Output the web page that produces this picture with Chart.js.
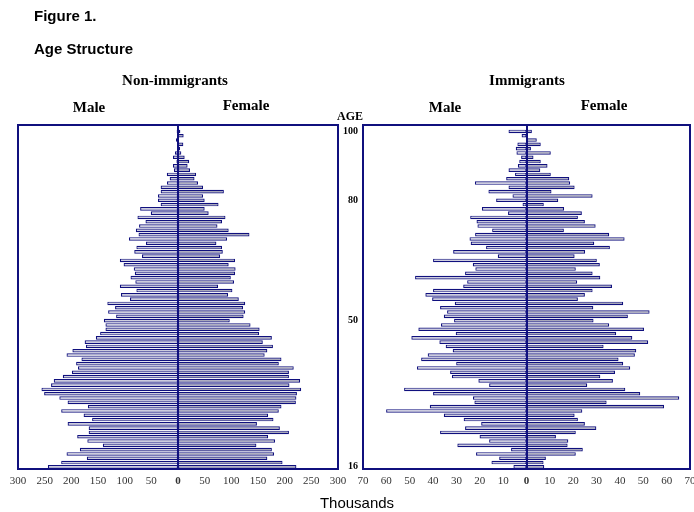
<!DOCTYPE html>
<html>
<head>
<meta charset="utf-8">
<script src="https://cdn.jsdelivr.net/npm/chart.js@4.4.0/dist/chart.umd.min.js"></script>
<style>
  body { margin: 0; background: #fff; }
  #wrap { position: relative; width: 694px; height: 512px; overflow: hidden; }
  canvas { position: absolute; top: 0; }
  .t { position: absolute; white-space: nowrap; transform: translate(-50%, -50%); color: #000; }
  .sans { font-family: "Liberation Sans", Arial, sans-serif; }
  .serif { font-family: "Liberation Serif", "Times New Roman", serif; font-weight: bold; }
</style>
</head>
<body>
<div id="wrap">
  <canvas id="nonImm" width="352" height="512" style="left:0"></canvas>
  <canvas id="imm" width="374" height="512" style="left:320px"></canvas>

  <div class="sans" style="position:absolute;left:34px;top:7px;font-size:15px;font-weight:bold">Figure 1.</div>
  <div class="sans" style="position:absolute;left:34px;top:40px;font-size:15px;font-weight:bold">Age Structure</div>

  <div class="t serif" style="left:175px;top:80px;font-size:15px">Non-immigrants</div>
  <div class="t serif" style="left:89px;top:107px;font-size:15px">Male</div>
  <div class="t serif" style="left:246px;top:105px;font-size:15px">Female</div>

  <div class="t serif" style="left:527px;top:80px;font-size:15px">Immigrants</div>
  <div class="t serif" style="left:445px;top:107px;font-size:15px">Male</div>
  <div class="t serif" style="left:604px;top:105px;font-size:15px">Female</div>

  <div class="t serif" style="left:350px;top:116px;font-size:12px">AGE</div>
  <div class="t sans" style="left:357px;top:502px;font-size:15px">Thousands</div>
</div>

<script>
// age categories, oldest at the top of the pyramid
const ages = [];
for (let a = 95; a >= 16; a--) ages.push(a);

// which ages get a printed label on the age axis, and what it says
const ageTickLabels = { 94: '100', 78: '80', 50: '50', 16: '16' };

// thousands of persons, from the top row (oldest) down to age 16
const nonImmMale = [0.5, 2.5, 0.6, 3.8, 0.6, 2, 5.6, 9.4, 3, 9.4, 7.5, 21, 15.6, 20.6, 32.5, 32.5,
  37.5, 37.5, 32.5, 71, 51, 76, 61, 73, 79, 74, 92, 60, 78, 82, 67.5, 109, 102, 83, 81, 89, 80,
  109, 78, 107, 90, 132.5, 118, 131, 116, 139, 136, 136, 146, 154, 175, 172.5, 198, 209, 181,
  191, 187.5, 199, 216, 233, 238, 256, 251, 222.5, 207, 169, 219, 177, 161, 207, 167.5, 167.5,
  189, 170, 141, 184, 209, 171, 219, 244];
const nonImmFemale = [0.5, 4.4, 10.6, 1.9, 10, 4, 6.2, 12.5, 21, 18, 22.5, 34, 31, 37.5, 47, 86,
  47, 50, 76, 50, 57.5, 89, 82.5, 74, 95, 134, 92, 72, 82.5, 84, 79, 107, 95, 108, 107, 99, 105,
  75, 102, 94, 114, 126, 122, 126, 123, 97, 136, 153, 152, 176, 159, 178, 167.5, 162.5, 194,
  189, 217, 208, 208, 229, 209, 231, 223, 222, 221, 194, 189, 169, 179, 148, 191, 208, 169, 182,
  147, 176, 180, 167.5, 196, 222];
const immMale = [0, 7.7, 2.1, 0.3, 3.9, 4.6, 4.3, 2.3, 3.1, 3.7, 7.7, 4.9, 8.7, 22.1, 7.7, 16.3,
  6, 13, 1.7, 19.1, 7.9, 24.1, 21.4, 21, 14.7, 22, 24.4, 23.9, 17.3, 31.4, 12.3, 40, 23, 21.9,
  26.3, 47.7, 25.4, 27.1, 40, 43.3, 40.4, 30.7, 37, 34, 35.4, 31, 36.6, 46.3, 30.3, 49.3, 37.3,
  34.6, 31.6, 42.3, 45.1, 30.1, 46.9, 32.7, 31.9, 20.6, 16, 52.4, 40, 22.9, 22.3, 41.4, 60.1,
  35.4, 26.9, 19.4, 26.3, 37, 20.1, 16, 29.6, 6.6, 21.6, 11.7, 15, 5.6];
const immFemale = [0, 2.3, 0.3, 4.4, 6.1, 1.9, 10.4, 3, 6.1, 9, 5.9, 10.4, 18.3, 18.7, 20.6, 10.7,
  28.3, 13.6, 7.4, 16.1, 23.7, 22, 25, 29.6, 16, 35.4, 42, 29, 35.7, 25.1, 20.6, 30.1, 31.4,
  21.1, 28.3, 31.6, 21.7, 36.6, 28.3, 25, 22, 41.4, 28.6, 52.7, 43.4, 28.7, 35.4, 50.3, 38.4,
  45.3, 52.1, 33, 47, 46.4, 39.4, 41.4, 44.4, 37.9, 31.6, 37, 26, 42.3, 48.7, 65.4, 34.3, 58.9,
  23.9, 20.6, 22, 25, 29.9, 21.1, 12.6, 17.9, 17.6, 24.1, 21.1, 8.3, 7.3, 7.6];

const NAVY = '#10107e';
const serif = '"Liberation Serif", "Times New Roman", serif';

// box around the plot + the zero line
const framePlugin = {
  id: 'frame',
  afterDatasetsDraw(chart) {
    const { ctx, chartArea: a, scales: { x } } = chart;
    const x0 = Math.round(x.getPixelForValue(0));
    ctx.save();
    ctx.strokeStyle = NAVY;
    ctx.lineWidth = 2;
    ctx.strokeRect(a.left, a.top, a.right - a.left, a.bottom - a.top);
    ctx.beginPath();
    ctx.moveTo(x0, a.top);
    ctx.lineTo(x0, a.bottom);
    ctx.stroke();
    ctx.restore();
  }
};

function pyramid(canvasId, male, female, maxVal, step, padding, ageAxisWidth) {
  return new Chart(document.getElementById(canvasId), {
    type: 'bar',
    data: {
      labels: ages,
      datasets: [
        { label: 'Male', data: male.map(v => -v), backgroundColor: '#cfcfdf' },
        { label: 'Female', data: female, backgroundColor: '#a8a8ba' }
      ].map(d => Object.assign(d, {
        borderColor: NAVY, borderWidth: 1.2, borderSkipped: false,
        barPercentage: 1, categoryPercentage: 0.84
      }))
    },
    options: {
      indexAxis: 'y',
      responsive: false,
      animation: false,
      layout: { padding },
      plugins: { legend: { display: false }, tooltip: { enabled: false } },
      scales: {
        x: {
          type: 'linear', stacked: true, min: -maxVal, max: maxVal,
          grid: { display: false, drawTicks: false }, border: { display: false },
          afterFit: s => { s.height = 20; s.paddingLeft = 0; s.paddingRight = 0; },
          ticks: {
            stepSize: step, autoSkip: false, maxRotation: 0, padding: 6, color: '#333',
            font: c => ({ family: serif, size: 11, weight: c.tick && c.tick.value === 0 ? 'bold' : 'normal' }),
            callback: v => Math.abs(v)
          }
        },
        y: {
          stacked: true,
          display: ageAxisWidth > 0,
          grid: { display: false, drawTicks: false }, border: { display: false },
          afterFit: s => { s.width = ageAxisWidth; s.paddingTop = 0; s.paddingBottom = 0; },
          ticks: {
            autoSkip: false, padding: 5, color: '#000',
            font: { family: serif, size: 10, weight: 'bold' },
            callback: function (v) { return ageTickLabels[this.getLabelForValue(v)] || ''; }
          }
        }
      }
    },
    plugins: [framePlugin]
  });
}

pyramid('nonImm', nonImmMale, nonImmFemale, 300, 50, { left: 18, top: 125, right: 14, bottom: 23 }, 0);
pyramid('imm', immMale, immFemale, 70, 10, { left: 0, top: 125, right: 4, bottom: 23 }, 43);
</script>
</body>
</html>
